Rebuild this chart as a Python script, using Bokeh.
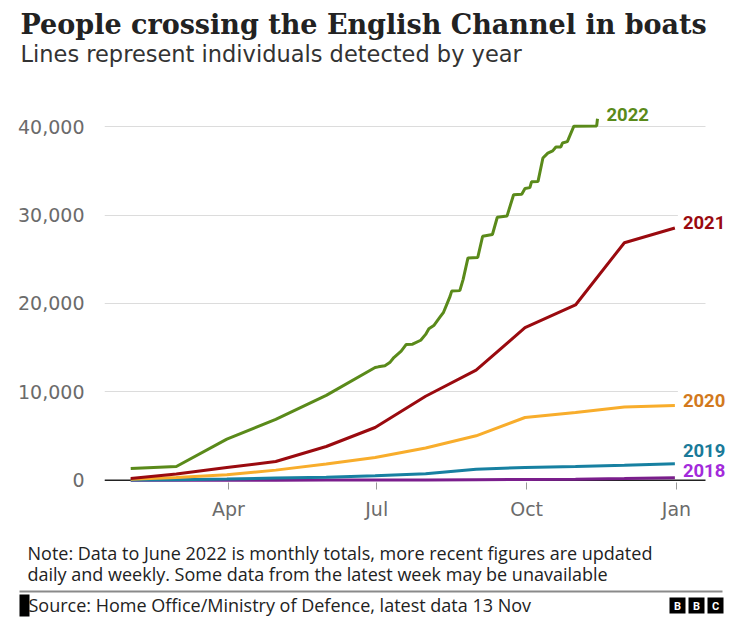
from bokeh.plotting import figure
from bokeh.layouts import column
from bokeh.models import (Range1d, FixedTicker, Label, Span, NumeralTickFormatter,
                          BoxAnnotation)
from bokeh.core.properties import value
from bokeh.embed import file_html
from bokeh.resources import INLINE

# ---------------- data ----------------
month_end_days = [30, 58, 89, 119, 150, 180, 211, 242, 272, 303, 333, 364]
crossings_2018 = [0, 5, 10, 15, 20, 30, 45, 65, 90, 130, 200, 299]
crossings_2019 = [30, 70, 150, 250, 350, 500, 750, 1260, 1450, 1560, 1710, 1880]
crossings_2020 = [130, 320, 620, 1150, 1830, 2580, 3650, 5030, 7100, 7660, 8300, 8470]
crossings_2021 = [200, 700, 1450, 2120, 3820, 5970, 9500, 12450, 17270, 19830, 26870, 28530]
days_2022 = [30, 58, 89, 119, 150, 180, 182, 186, 189, 191.5, 196, 199, 203, 208, 211,
             213, 216, 220, 222, 224, 226, 227, 232, 234, 237, 243, 246, 252, 255, 261,
             265, 270, 272, 275, 276, 280, 283, 286, 289, 291, 294, 295, 298, 302, 316,
             316.5]
crossings_2022 = [1340, 1560, 4650, 6900, 9600, 12750, 12830, 12950, 13310, 13880, 14600,
                  15350, 15390, 15840, 16500, 17150, 17500, 18500, 19000, 19900, 20800,
                  21400, 21450, 22700, 25150, 25200, 27600, 27800, 29750, 29900, 32300,
                  32350, 33000, 33100, 33750, 33800, 36450, 37000, 37250, 37700, 37700,
                  38150, 38300, 40050, 40080, 40885]
year_labels = ["2018", "2019", "2020", "2021", "2022"]
x_tick_days = [90, 181, 273, 365]
x_tick_labels = ["Apr", "Jul", "Oct", "Jan"]
y_ticks = [0, 10000, 20000, 30000, 40000]

TITLE = "People crossing the English Channel in boats"
SUBTITLE = "Lines represent individuals detected by year"
NOTE1 = "Note: Data to June 2022 is monthly totals, more recent figures are updated"
NOTE2 = "daily and weekly. Some data from the latest week may be unavailable"
SOURCE = "Source: Home Office/Ministry of Defence, latest data 13 Nov"
LOGO = ["B", "B", "C"]

# ---------------- layout ----------------
W = 754
H_HEAD, H_MAIN, H_FOOT = 84, 444, 102
B_LEFT, B_TOP, B_BOTTOM = 104, 20, 46
FRAME_W = W - B_LEFT
PX_PER_DAY = 1.6292
X_START = 13.9
X_END = X_START + FRAME_W / PX_PER_DAY
X_AXIS_END = X_START + 601 / PX_PER_DAY
Y_START, Y_END = -250, 42500


def blank(h, top):
    f = figure(width=W, height=h, output_backend="svg", toolbar_location=None,
               x_range=Range1d(0, W), y_range=Range1d(top + h, top),
               x_axis_type=None, y_axis_type=None, frame_align=False,
               min_border_left=0, min_border_right=0, min_border_top=0, min_border_bottom=0)
    f.outline_line_color = None
    f.background_fill_color = "white"
    f.border_fill_color = "white"
    return f


# ---------------- header ----------------
head = blank(H_HEAD, 0)
head.add_layout(Label(x=20, y=24, text=TITLE, text_font="DejaVu Serif",
                      text_font_style="bold", text_font_size="27px", text_color="#222222",
                      text_align="left", text_baseline="alphabetic"))
head.add_layout(Label(x=20, y=53.5, text=SUBTITLE, text_font="DejaVu Sans",
                      text_font_size="22.5px", text_color="#333333",
                      text_align="left", text_baseline="alphabetic"))

# ---------------- main chart ----------------
p = figure(width=W, height=H_MAIN, output_backend="svg", toolbar_location=None,
           x_range=Range1d(X_START, X_END), y_range=Range1d(Y_START, Y_END),
           frame_align=False,
           min_border_left=B_LEFT, min_border_right=0,
           min_border_top=B_TOP, min_border_bottom=B_BOTTOM)
p.outline_line_color = None
p.background_fill_color = "white"
p.border_fill_color = "white"

p.xgrid.grid_line_color = None
p.ygrid.grid_line_color = "#dcdcdc"
p.ygrid.grid_line_width = 1
p.ygrid.ticker = FixedTicker(ticks=y_ticks)

p.yaxis.ticker = FixedTicker(ticks=y_ticks)
p.yaxis.formatter = NumeralTickFormatter(format="0,0")
p.yaxis.axis_line_color = None
p.yaxis.major_tick_line_color = None
p.yaxis.minor_tick_line_color = None
p.yaxis.major_label_standoff = 14
p.yaxis.major_label_text_font = "DejaVu Sans"
p.yaxis.major_label_text_font_size = "19px"
p.yaxis.major_label_text_color = "#6b6b6b"

p.xaxis.ticker = FixedTicker(ticks=x_tick_days)
p.xaxis.major_label_overrides = {d: t for d, t in zip(x_tick_days, x_tick_labels)}
p.xaxis.axis_line_color = None
p.xaxis.major_tick_line_color = "#999999"
p.xaxis.major_tick_in = 0
p.xaxis.major_tick_out = 7
p.xaxis.minor_tick_line_color = None
p.xaxis.major_label_standoff = 8
p.xaxis.major_label_text_font = "DejaVu Sans"
p.xaxis.major_label_text_font_size = "19px"
p.xaxis.major_label_text_color = "#6b6b6b"

p.add_layout(Span(location=0, dimension="width", line_color="#222222",
                  line_width=1.5, level="underlay"))
# blank out the grid beyond the axis end, where the year labels sit
p.add_layout(BoxAnnotation(left=X_AXIS_END, fill_color="white", fill_alpha=1.0,
                           line_color=None))

line_colors = ["#7A1E8C", "#1780A1", "#F8AD2C", "#9A0A0F", "#5A8A1A"]
label_colors = ["#A32BDB", "#1A7A99", "#D2791D", "#9A0A0F", "#5A8A1A"]
series = [crossings_2018, crossings_2019, crossings_2020, crossings_2021]
for vals, col in zip(series, line_colors[:4]):
    p.line(month_end_days, vals, line_color=col, line_width=3)
p.line(days_2022, crossings_2022, line_color=line_colors[4], line_width=3)

ends = [(month_end_days[-1], crossings_2018[-1]), (month_end_days[-1], crossings_2019[-1]),
        (month_end_days[-1], crossings_2020[-1]), (month_end_days[-1], crossings_2021[-1]),
        (days_2022[-1], crossings_2022[-1])]
label_dy = [770, 1450, 510, 570, 525]
for i, (yr, (ex, ey)) in enumerate(zip(year_labels, ends)):
    bg = "white" if yr in ("2020", "2021") else None
    pad = 5 if bg else 0
    xoff = 3 if bg else 8
    if yr == "2022":
        xoff += 1
    p.add_layout(Label(x=ex, y=ey + label_dy[i], x_offset=xoff,
                       text=yr, text_font="Roboto", text_font_style="bold",
                       text_font_size="18.5px", text_color=label_colors[i],
                       text_align="left", text_baseline="middle",
                       background_fill_color=bg, padding=pad))

# ---------------- footer ----------------
TOP_F = H_HEAD + H_MAIN
foot = blank(H_FOOT, TOP_F)
foot.add_layout(Label(x=27, y=552.2, text=NOTE1, text_font="Open Sans",
                      text_font_size="18px", text_color="#222222",
                      text_align="left", text_baseline="alphabetic"))
foot.add_layout(Label(x=27, y=573, text=NOTE2, text_font="Open Sans",
                      text_font_size="18px", text_color="#222222",
                      text_align="left", text_baseline="alphabetic"))
foot.segment(x0=[19], y0=[591], x1=[722], y1=[591], line_color="#8a8a8a", line_width=2)
foot.quad(left=[19], right=[29], top=[594], bottom=[616], fill_color="black", line_color=None)
foot.add_layout(Label(x=28, y=604.5, text=SOURCE, text_font="Open Sans",
                      text_font_size="18px", text_color="#222222",
                      text_align="left", text_baseline="alphabetic"))
logo_x = [677, 696, 715]
foot.rect(x=logo_x, y=[605] * 3, width=16, height=16, fill_color="black", line_color=None)
foot.text(x=logo_x, y=[605.5] * 3, text=LOGO, text_color="white",
          text_font=value("Roboto"), text_font_style="bold", text_font_size="11px",
          text_align="center", text_baseline="middle")

layout = column(head, p, foot, spacing=0)
open("out.html", "w").write(file_html(layout, INLINE))
